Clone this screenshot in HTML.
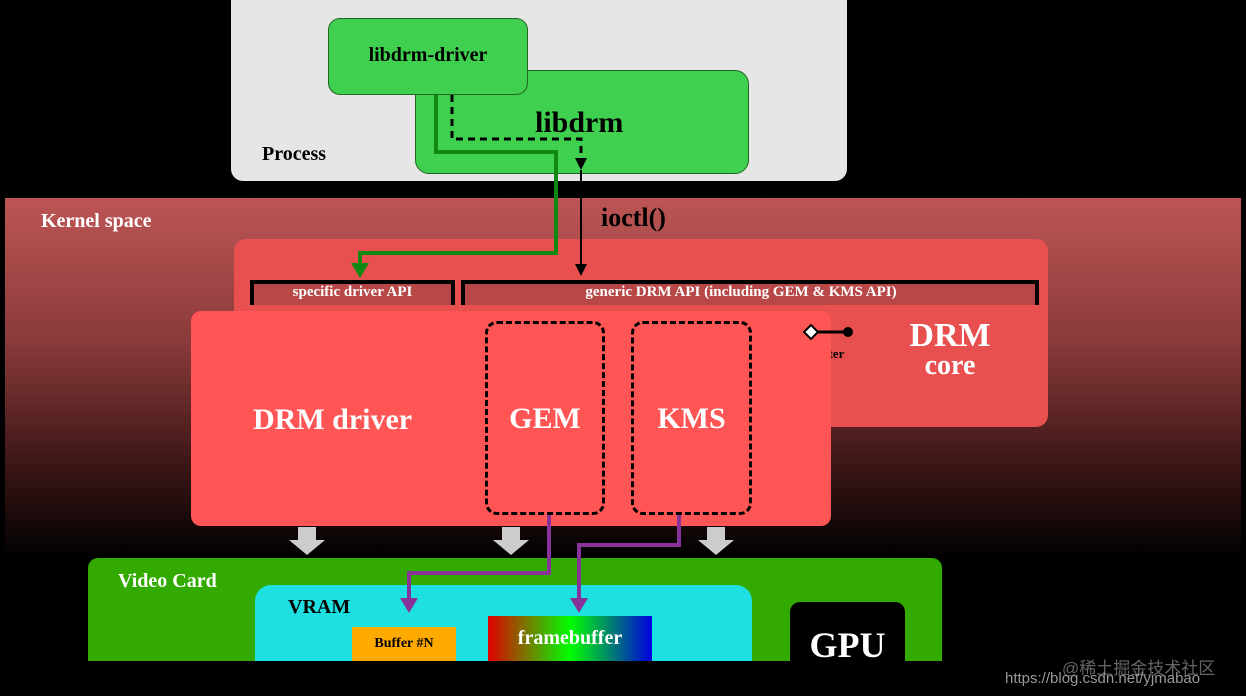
<!DOCTYPE html>
<html><head><style>
body{margin:0;width:1246px;height:696px;background:#000;position:relative;overflow:hidden;font-family:"Liberation Serif",serif;font-weight:bold}
div{position:absolute;box-sizing:border-box}
.t{white-space:nowrap}
</style></head><body>
<div style="left:231px;top:-12px;width:616px;height:193px;background:#e6e6e6;border-radius:12px"></div>
<div class="t" style="left:262px;top:143px;font-size:20px;color:#000">Process</div>
<div style="left:415px;top:70px;width:334px;height:104px;background:#40d050;border:1px solid #226622;border-radius:14px"></div>
<div class="t" style="left:535px;top:106px;font-size:30px;color:#000">libdrm</div>
<div style="left:328px;top:18px;width:200px;height:77px;background:#40d050;border:1px solid #226622;border-radius:12px"></div>
<div class="t" style="left:328px;top:44px;width:200px;text-align:center;font-size:20px">libdrm-driver</div>

<div style="left:5px;top:198px;width:1236px;height:360px;background:linear-gradient(#bd5555 0%,#8a3a3a 40%,#3a1515 75%,#000 100%)"></div>
<div class="t" style="left:41px;top:210px;font-size:20px;color:#fff">Kernel space</div>
<div style="left:234px;top:239px;width:814px;height:188px;background:#e85050;border-radius:12px"></div>
<div style="left:250px;top:280px;width:205px;height:25px;background:#b84848;border:4px solid #000;border-bottom:none"></div>
<div class="t" style="left:250px;top:284px;width:205px;text-align:center;font-size:15px;color:#fff">specific driver API</div>
<div style="left:461px;top:280px;width:578px;height:25px;background:#b84848;border:4px solid #000;border-bottom:none"></div>
<div class="t" style="left:461px;top:284px;width:560px;text-align:center;font-size:15px;color:#fff">generic DRM API (including GEM &amp; KMS API)</div>
<div class="t" style="left:880px;top:316px;width:140px;text-align:center;font-size:34px;color:#fff;line-height:40px">DRM</div>
<div class="t" style="left:880px;top:350px;width:140px;text-align:center;font-size:28px;color:#fff">core</div>
<div class="t" style="left:802px;top:346px;font-size:13px;color:#000">register</div>

<div style="left:191px;top:311px;width:640px;height:215px;background:#ff5555;border-radius:10px"></div>
<div class="t" style="left:253px;top:403px;font-size:30px;color:#fff">DRM driver</div>
<div style="left:485px;top:321px;width:120px;height:194px;border:3px dashed #000;border-radius:12px"></div>
<div class="t" style="left:485px;top:402px;width:120px;text-align:center;font-size:30px;color:#fff">GEM</div>
<div style="left:631px;top:321px;width:121px;height:194px;border:3px dashed #000;border-radius:12px"></div>
<div class="t" style="left:631px;top:402px;width:121px;text-align:center;font-size:30px;color:#fff">KMS</div>

<div style="left:88px;top:558px;width:854px;height:103px;background:#33aa00;border-radius:10px 10px 0 0"></div>
<div class="t" style="left:118px;top:570px;font-size:20px;color:#fff">Video Card</div>
<div style="left:255px;top:585px;width:497px;height:76px;background:#1ee0e0;border-radius:16px 16px 0 0"></div>
<div class="t" style="left:288px;top:596px;font-size:20px;color:#000">VRAM</div>
<div style="left:352px;top:627px;width:104px;height:34px;background:#ffaa00"></div>
<div class="t" style="left:352px;top:636px;width:104px;text-align:center;font-size:14px;color:#000">Buffer #N</div>
<div style="left:488px;top:616px;width:164px;height:45px;background:linear-gradient(90deg,#e00000,#00ff00 50%,#0000e0)"></div>
<div class="t" style="left:488px;top:627px;width:164px;text-align:center;font-size:20px;color:#fff">framebuffer</div>
<div style="left:790px;top:602px;width:115px;height:59px;background:#000;border-radius:10px 10px 0 0"></div>
<div class="t" style="left:790px;top:624px;width:115px;text-align:center;font-size:36px;color:#fff">GPU</div>
<div class="t" style="left:1062px;top:654px;font-family:'Liberation Sans','Noto Sans CJK SC',sans-serif;font-weight:normal;font-size:17px;color:#666">@稀土掘金技术社区</div>
<div class="t" style="left:1005px;top:670px;font-family:'Liberation Sans',sans-serif;font-weight:normal;font-size:15px;color:#999">https://blog.csdn.net/yjmabao</div>

<svg width="1246" height="696" style="position:absolute;left:0;top:0">
<polyline points="436,95 436,152 556,152 556,253 360,253 360,266" fill="none" stroke="#118811" stroke-width="4"/>
<polygon points="351,263 369,263 360,278" fill="#118811"/>
<polyline points="452,95 452,139 581,139 581,160" fill="none" stroke="#000" stroke-width="3" stroke-dasharray="7,5"/>
<polygon points="575,158 587,158 581,170" fill="#000"/>
<line x1="581" y1="170" x2="581" y2="266" stroke="#000" stroke-width="2"/>
<polygon points="575,264 587,264 581,276" fill="#000"/>
<line x1="815" y1="332" x2="848" y2="332" stroke="#000" stroke-width="3"/>
<polygon points="804,332 811,325 818,332 811,339" fill="#fff" stroke="#000" stroke-width="2"/>
<circle cx="848" cy="332" r="5" fill="#000"/>
<g fill="#ccc"><polygon points="298,527 316,527 316,540 325,540 307,555 289,540 298,540"/>
<polygon points="502,527 520,527 520,540 529,540 511,555 493,540 502,540"/>
<polygon points="707,527 725,527 725,540 734,540 716,555 698,540 707,540"/></g>
<polyline points="549,515 549,573 409,573 409,600" fill="none" stroke="#883399" stroke-width="4"/>
<polygon points="400,598 418,598 409,613" fill="#883399"/>
<polyline points="679,515 679,545 579,545 579,600" fill="none" stroke="#883399" stroke-width="4"/>
<polygon points="570,598 588,598 579,613" fill="#883399"/>
</svg>
<div class="t" style="left:601px;top:203px;font-size:26px;color:#000">ioctl()</div>
</body></html>
